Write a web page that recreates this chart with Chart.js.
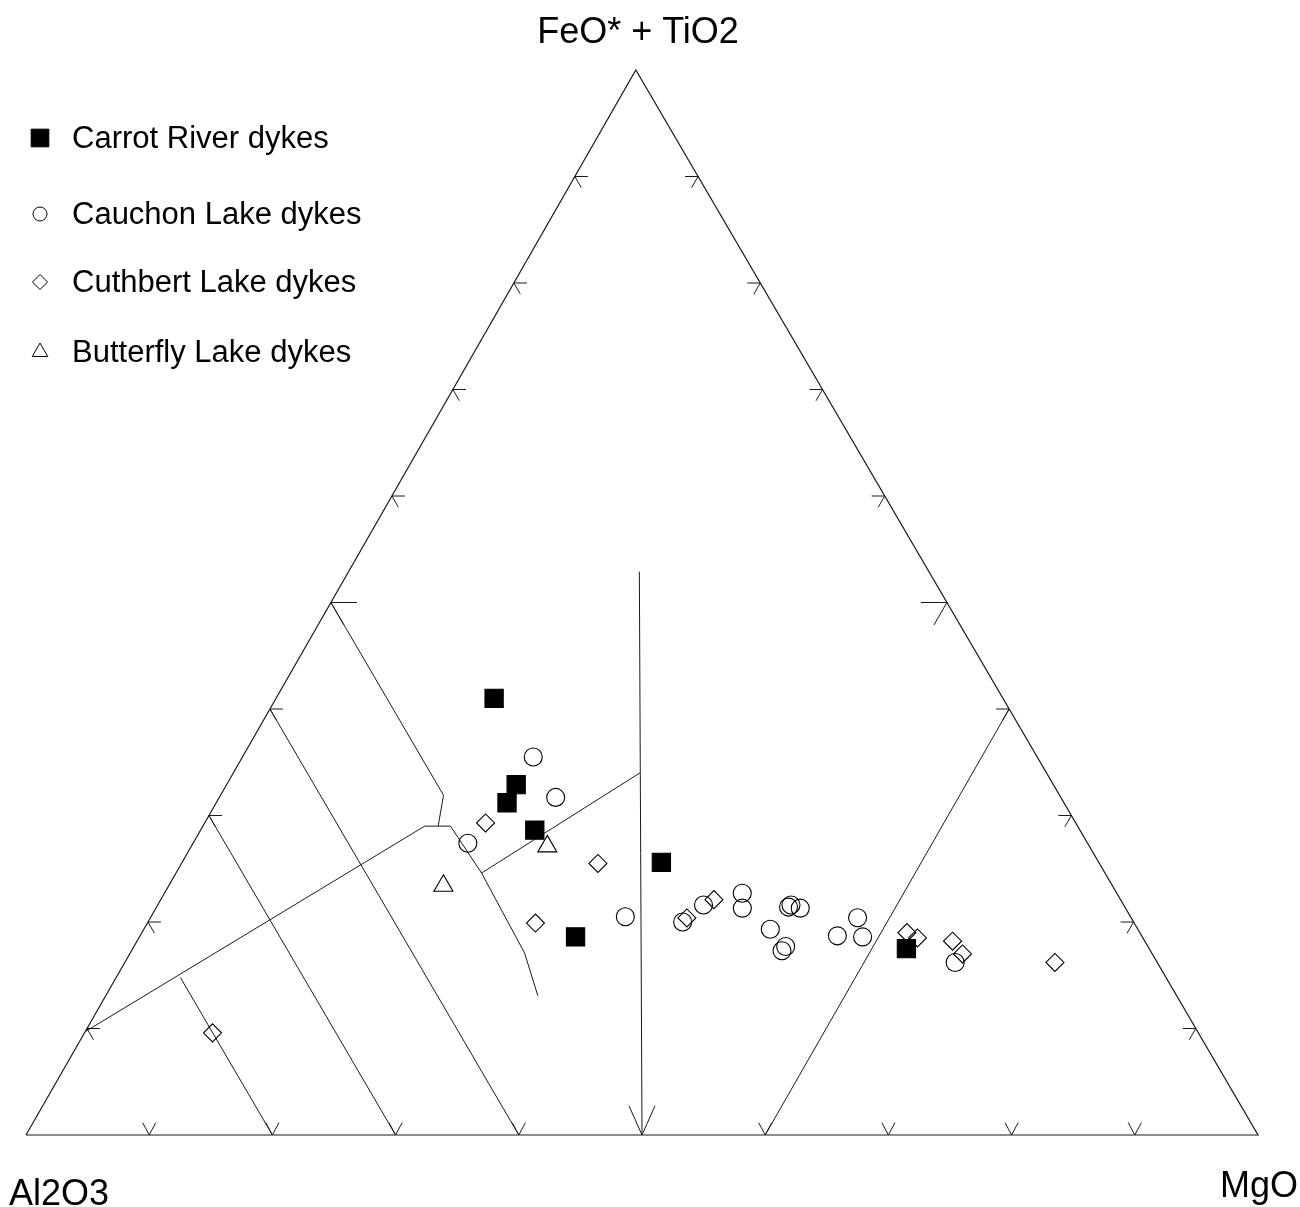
<!DOCTYPE html>
<html>
<head>
<meta charset="utf-8">
<script src="https://cdn.jsdelivr.net/npm/chart.js@4.4.1/dist/chart.umd.min.js"></script>
<style>
  html, body { margin: 0; padding: 0; background: #ffffff; }
  canvas { display: block; }
</style>
</head>
<body>
<canvas id="jensen" width="1300" height="1207"></canvas>
<script>
// Compositions are [Al2O3, FeO* + TiO2, MgO] in cation percent.
const carrotRiver = [
  [41.3, 41.0, 17.7], [43.6, 32.9, 23.5], [45.2, 31.2, 23.6], [44.2, 28.6, 27.1],
  [35.5, 25.6, 38.9], [46.0, 18.6, 35.4], [19.7, 17.5, 62.8]
];
const cauchonLake = [
  [40.9, 35.5, 23.6], [41.0, 31.7, 27.3], [50.3, 27.4, 22.3], [41.0, 20.5, 38.5],
  [36.6, 20.0, 43.4], [34.1, 21.6, 44.3], [30.4, 22.7, 46.9], [31.1, 21.3, 47.6],
  [27.3, 21.4, 51.3], [27.0, 21.6, 51.4], [26.4, 21.3, 52.3], [29.8, 19.3, 50.8],
  [29.9, 17.3, 52.8], [29.4, 17.7, 52.9], [24.7, 18.7, 56.6], [22.2, 20.4, 57.4],
  [22.7, 18.6, 58.7], [16.4, 16.2, 67.4]
];
const cuthbertLake = [
  [47.9, 29.3, 22.8], [40.7, 25.5, 33.8], [48.6, 19.9, 31.5], [36.1, 20.4, 43.6],
  [33.0, 22.1, 44.9], [18.9, 19.0, 62.1], [18.3, 18.5, 63.2], [15.6, 18.2, 66.2],
  [15.4, 17.0, 67.6], [8.3, 16.2, 75.5], [80.1, 9.6, 10.4]
];
const butterflyLake = [
  [54.3, 23.4, 22.3], [44.0, 27.1, 28.9]
];

const seriesNames = ["Carrot River dykes", "Cauchon Lake dykes", "Cuthbert Lake dykes", "Butterfly Lake dykes"];
const apexLabels = ["Al2O3", "FeO* + TiO2", "MgO"];
const tickValues = [10, 20, 30, 40, 50, 60, 70, 80, 90];

// Field boundaries of the cation plot
const outline = [[100, 0, 0], [0, 0, 100], [0, 100, 0], [100, 0, 0]];
const lineAlEqMg = [[50, 0, 50], [23.5, 52.9, 23.6]];
const lineTholCalc = [[90.3, 9.7, 0], [53.0, 29.0, 18.0], [50.9, 29.0, 20.1], [50.6, 24.6, 24.8], [50.9, 17.1, 32.0], [51.9, 13.1, 35.1]];
const lineUpperBend = [[50, 50, 0], [50.0, 31.9, 18.1], [51.9, 29.0, 19.1]];
const lineTholSplit = [[50.6, 24.6, 24.8], [33.0, 34.0, 33.0]];
const lineAl60 = [[60, 40, 0], [60, 0, 40]];
const lineAl70 = [[70, 30, 0], [70, 0, 30]];
const lineAl80 = [[80, 14.8, 5.2], [80, 0, 20]];
const lineMg60 = [[0, 40, 60], [40, 0, 60]];

// Ternary -> plane (slightly sheared so the apex sits a little left of centre)
const SHEAR = 0.495;
function toXY(c) {
  const s = c[0] + c[1] + c[2];
  const fe = c[1] / s, mg = c[2] / s;
  return { x: mg + SHEAR * fe, y: fe };
}

const INK = '#1a1a1a';
function boundary(points, width) {
  return {
    data: points.map(toXY), showLine: true, pointRadius: 0, borderColor: INK,
    borderWidth: width || 1, fill: false, clip: false, tension: 0
  };
}
function series(label, comps, style, radius, filled) {
  return {
    label, data: comps.map(toXY), showLine: false, pointStyle: style, pointRadius: radius,
    pointBackgroundColor: filled ? '#000000' : 'rgba(0,0,0,0)', pointBorderColor: '#000000',
    pointBorderWidth: 1.1, clip: false
  };
}

// Edge ticks (arrowheads) and all text labels
const ternaryDecor = {
  id: 'ternaryDecor',
  afterDatasetsDraw(chart) {
    const ctx = chart.ctx;
    const xs = chart.scales.x, ys = chart.scales.y;
    const px = c => { const p = toXY(c); return [xs.getPixelForValue(p.x), ys.getPixelForValue(p.y)]; };
    function arrow(c, normalDeg, len, spread) {
      const [x, y] = px(c);
      const back = normalDeg + 180;
      [-spread, spread].forEach(d => {
        const a = (back + d) * Math.PI / 180;
        ctx.moveTo(x, y);
        ctx.lineTo(x + len * Math.cos(a), y - len * Math.sin(a));
      });
    }
    ctx.save();
    ctx.strokeStyle = INK;
    ctx.lineWidth = 1;
    ctx.beginPath();
    tickValues.forEach(v => {
      const big = v === 50;
      arrow([100 - v, v, 0], 150, big ? 26 : 13, 30);      // Al2O3 - FeO edge
      arrow([0, v, 100 - v], 30, big ? 26 : 13, 30);       // MgO - FeO edge
      arrow([100 - v, 0, v], 270, big ? 32 : 14, big ? 24 : 28); // base
    });
    ctx.stroke();

    // Apex labels
    ctx.fillStyle = '#000000';
    ctx.font = '36px "Liberation Sans", Arial, sans-serif';
    ctx.textBaseline = 'alphabetic';
    ctx.textAlign = 'center';
    ctx.fillText(apexLabels[1], 638, 43);
    ctx.textAlign = 'left';
    ctx.fillText(apexLabels[0], 9, 1205);
    ctx.textAlign = 'right';
    ctx.fillText(apexLabels[2], 1298, 1197);

    // Legend
    const rows = [
      { y: 138, style: 'rect', r: 12.5, fill: true },
      { y: 214, style: 'circle', r: 7, fill: false },
      { y: 282, style: 'rectRot', r: 7.5, fill: false },
      { y: 352, style: 'triangle', r: 9, fill: false }
    ];
    ctx.font = '31px "Liberation Sans", Arial, sans-serif';
    ctx.textAlign = 'left';
    ctx.textBaseline = 'middle';
    rows.forEach((row, i) => {
      ctx.fillStyle = row.fill ? '#000000' : 'rgba(0,0,0,0)';
      ctx.strokeStyle = '#000000';
      ctx.lineWidth = 1;
      Chart.helpers.drawPoint(ctx, { pointStyle: row.style, radius: row.r, rotation: 0, borderWidth: 1 }, 40, row.y);
      ctx.fillStyle = '#000000';
      ctx.fillText(seriesNames[i], 72, row.y + 1);
    });
    ctx.restore();
  }
};

new Chart(document.getElementById('jensen').getContext('2d'), {
  type: 'scatter',
  data: {
    datasets: [
      series(seriesNames[0], carrotRiver, 'rect', 12.9, true),
      series(seriesNames[1], cauchonLake, 'circle', 9, false),
      series(seriesNames[2], cuthbertLake, 'rectRot', 9, false),
      series(seriesNames[3], butterflyLake, 'triangle', 11, false),
      boundary(outline, 1.2),
      boundary(lineAlEqMg),
      boundary(lineTholCalc),
      boundary(lineUpperBend),
      boundary(lineTholSplit),
      boundary(lineAl60),
      boundary(lineAl70),
      boundary(lineAl80),
      boundary(lineMg60)
    ]
  },
  options: {
    responsive: false,
    animation: false,
    devicePixelRatio: 1,
    layout: { padding: { left: 26, right: 42, top: 70, bottom: 72 } },
    scales: {
      x: { type: 'linear', min: 0, max: 1, display: false },
      y: { type: 'linear', min: 0, max: 1, display: false }
    },
    plugins: { legend: { display: false }, tooltip: { enabled: false } }
  },
  plugins: [ternaryDecor]
});
</script>
</body>
</html>
